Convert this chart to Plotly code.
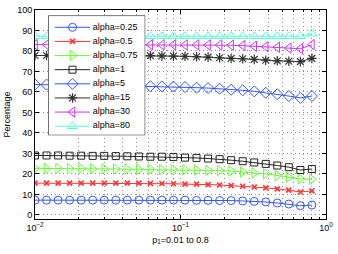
import plotly.graph_objects as go

# ---------------- data ----------------
p1 = [0.01, 0.0120, 0.01441, 0.01729, 0.02076, 0.02492, 0.02991, 0.03590,
      0.04309, 0.05172, 0.06208, 0.07451, 0.08944, 0.1074, 0.1289, 0.1547,
      0.1857, 0.2228, 0.2675, 0.3211, 0.3854, 0.4626, 0.5552, 0.6665, 0.8]

alpha_025 = [7.2, 7.2, 7.2, 7.2, 7.2, 7.2, 7.2, 7.2, 7.2, 7.2, 7.2, 7.2, 7.2,
             7.2, 7.1, 7.1, 7.0, 7.0, 6.8, 6.6, 6.3, 5.8, 5.3, 4.5, 4.8]
alpha_05 = [15.5, 15.5, 15.5, 15.5, 15.5, 15.5, 15.5, 15.5, 15.5, 15.5, 15.4,
            15.3, 15.2, 15.0, 15.0, 14.8, 14.6, 14.3, 14.0, 13.6, 13.2, 12.7,
            12.1, 11.2, 11.7]
alpha_075 = [22.7, 22.7, 22.7, 22.6, 22.6, 22.5, 22.5, 22.4, 22.3, 22.2, 22.2,
             22.1, 22.1, 22.05, 21.9, 21.75, 21.6, 21.4, 20.95, 20.5, 20.0,
             19.2, 18.4, 17.6, 17.3]
alpha_1 = [29.0, 29.0, 29.0, 28.9, 28.9, 28.8, 28.8, 28.7, 28.6, 28.5, 28.4,
           28.4, 28.3, 27.95, 27.8, 27.5, 27.2, 26.7, 26.2, 25.6, 24.9, 24.1,
           23.3, 21.9, 22.4]
alpha_5 = [63.6, 63.6, 63.5, 63.5, 63.4, 63.3, 63.2, 63.1, 63.0, 62.9, 62.8,
           62.7, 62.6, 62.4, 62.1, 61.9, 61.6, 61.1, 60.8, 60.3, 59.6, 58.9,
           58.0, 57.1, 58.0]
alpha_15 = [77.8, 77.8, 77.8, 77.8, 77.8, 77.8, 77.8, 77.8, 77.8, 77.8, 77.7,
            77.6, 77.5, 77.4, 77.2, 77.0, 76.7, 76.4, 76.2, 75.9, 75.5, 75.2,
            75.0, 74.8, 76.4]
alpha_30 = [83.1, 83.1, 83.1, 83.1, 83.1, 83.1, 83.1, 83.1, 83.1, 83.1, 83.0,
            83.0, 83.0, 82.95, 82.95, 82.9, 82.9, 82.8, 82.6, 82.3, 82.1, 81.8,
            81.4, 81.1, 83.1]
alpha_80 = [87.2, 87.2, 87.2, 87.2, 87.2, 87.2, 87.2, 87.2, 87.2, 87.2, 87.2,
            87.2, 87.2, 87.2, 87.2, 87.2, 87.2, 87.2, 87.2, 87.2, 87.2, 87.2,
            87.2, 87.2, 88.4]

series_names = ["alpha=0.25", "alpha=0.5", "alpha=0.75", "alpha=1",
                "alpha=5", "alpha=15", "alpha=30", "alpha=80"]
series_values = [alpha_025, alpha_05, alpha_075, alpha_1,
                 alpha_5, alpha_15, alpha_30, alpha_80]

x_tickvals = [0.01, 0.1, 1]
x_ticktext = ["10<sup>\u22122</sup>", "10<sup>\u22121</sup>", "10<sup>0</sup>"]
x_minorvals = [0.02, 0.03, 0.04, 0.05, 0.06, 0.07, 0.08, 0.09,
               0.2, 0.3, 0.4, 0.5, 0.6, 0.7, 0.8, 0.9]
y_tickvals = [0, 10, 20, 30, 40, 50, 60, 70, 80, 90, 100]

# ---------------- styles ----------------
colors = ["#3355ff", "#ff3333", "#66ff33", "#222222",
          "#3355ff", "#333333", "#cc33ff", "#55ffd5"]
symbols = ["circle-open", "x-thin-open", "triangle-right-open", "square-open",
           "diamond-open", "asterisk-open", "triangle-left-open", "triangle-up-open"]
sizes = [8, 5, 9, 7, 8.5, 8, 9, 9]
mlw = [1, 1.6, 1, 1, 1, 1.2, 1, 1]

FONT = "Liberation Sans, Arial, Helvetica, sans-serif"

fig = go.Figure()

for vals, c, s, sz, lw in zip(series_values, colors, symbols, sizes, mlw):
    fig.add_trace(go.Scatter(
        x=p1, y=vals, mode="lines+markers", showlegend=False,
        line=dict(color=c, width=1),
        marker=dict(symbol=s, size=sz, color=c, line=dict(color=c, width=lw)),
        xaxis="x", yaxis="y"))

# ---------------- custom compact legend (inset axes) ----------------
LEG_W, LEG_H = 98, 122.6
ROW0, ROW_STEP = 12.0, 14.47
LINE_X0, LINE_X1, TEXT_X = 6.7, 42.4, 45.0
for i, (name, c, s, sz, lw) in enumerate(zip(series_names, colors, symbols, sizes, mlw)):
    ry = ROW0 + i * ROW_STEP
    fig.add_trace(go.Scatter(
        x=[LINE_X0, LINE_X1], y=[ry, ry], mode="lines", showlegend=False,
        line=dict(color=c, width=1), xaxis="x2", yaxis="y2", hoverinfo="skip"))
    fig.add_trace(go.Scatter(
        x=[(LINE_X0 + LINE_X1) / 2], y=[ry], mode="markers", showlegend=False,
        marker=dict(symbol=s, size=sz, color=c, line=dict(color=c, width=lw)),
        xaxis="x2", yaxis="y2", hoverinfo="skip"))
    fig.add_trace(go.Scatter(
        x=[TEXT_X], y=[ry], mode="text", text=[name], textposition="middle right",
        textfont=dict(family=FONT, size=9, color="black"), showlegend=False,
        xaxis="x2", yaxis="y2", hoverinfo="skip", cliponaxis=False))

fig.add_shape(type="rect", xref="x2", yref="y2", x0=0, x1=LEG_W, y0=0, y1=LEG_H,
              layer="below", fillcolor="white", line=dict(color="black", width=1))

# plot area: x 35..328, y 5..219 in a 338x254 page
PW, PH = 293, 214
lx0 = (48.3 - 35) / PW
lx1 = (146.0 - 35) / PW
ly1 = 1 - (10.7 - 5) / PH
ly0 = 1 - (133.3 - 5) / PH

grid_col = "#8c8c8c"
grid_dash = "1px,3px"
fig.update_layout(
    width=338, height=254,
    margin=dict(l=35, r=10, t=5, b=35),
    paper_bgcolor="white", plot_bgcolor="white",
    font=dict(family=FONT, size=9, color="black"),
    xaxis=dict(
        type="log", range=[-2, 0], domain=[0, 1],
        tickmode="array", tickvals=x_tickvals, ticktext=x_ticktext,
        ticks="inside", ticklen=4, tickcolor="black",
        showline=True, linecolor="black", linewidth=1, mirror="ticks",
        showgrid=True, gridcolor=grid_col, griddash=grid_dash, gridwidth=1,
        zeroline=False,
        minor=dict(tickmode="array", tickvals=x_minorvals, ticks="inside",
                   ticklen=2, tickcolor="black", showgrid=True,
                   gridcolor=grid_col, griddash=grid_dash, gridwidth=1),
        tickfont=dict(size=9),
        title=dict(text="p<sub>1</sub>=0.01 to 0.8", font=dict(size=9), standoff=4),
    ),
    yaxis=dict(
        range=[-2, 100], domain=[0, 1],
        tickmode="array", tickvals=y_tickvals,
        ticks="inside", ticklen=4, tickcolor="black",
        showline=True, linecolor="black", linewidth=1, mirror="ticks",
        showgrid=True, gridcolor=grid_col, griddash=grid_dash, gridwidth=1,
        zeroline=False,
        tickfont=dict(size=9),
        title=dict(text="Percentage", font=dict(size=9), standoff=5),
    ),
    xaxis2=dict(domain=[lx0, lx1], range=[0, LEG_W], visible=False,
                fixedrange=True, anchor="y2"),
    yaxis2=dict(domain=[ly0, ly1], range=[LEG_H, 0], visible=False,
                fixedrange=True, anchor="x2"),
)

fig.write_html("out.html", config={"displayModeBar": False},
               post_script="document.body.style.margin='0px';")
